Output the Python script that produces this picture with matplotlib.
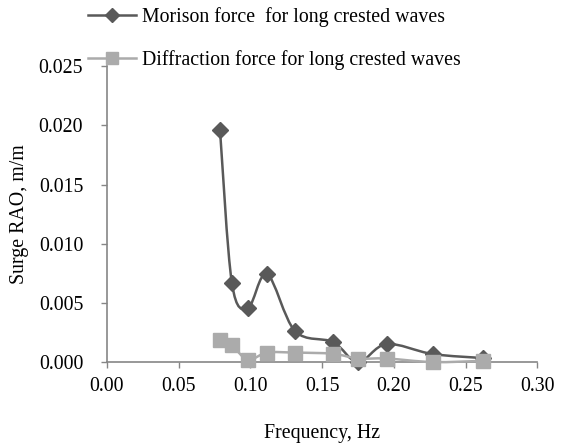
import numpy as np
import matplotlib.pyplot as plt
from matplotlib.path import Path
from matplotlib.patches import PathPatch
from matplotlib.lines import Line2D

plt.rcParams['font.family'] = ['Liberation Serif', 'DejaVu Serif']

# values
freq = [0.0789, 0.0872, 0.0984, 0.1117, 0.1312, 0.1577, 0.1750, 0.1950, 0.2270, 0.2620]
morison = [0.0196, 0.00667, 0.00456, 0.00743, 0.00262, 0.00169, 0.0000, 0.00152, 0.00068, 0.00034]
diffraction = [0.0019, 0.0014, 0.0002, 0.0008, 0.0008, 0.0007, 0.0003, 0.0003, 0.0000, 0.0001]

x_ticks = [0.00, 0.05, 0.10, 0.15, 0.20, 0.25, 0.30]
y_ticks = [0.000, 0.005, 0.010, 0.015, 0.020, 0.025]

dark = '#595959'
light = '#ababab'
axis_col = '#868686'
fs = 14.3


def smooth_path(ax, xs, ys):
    # excel style smoothed line, bezier segments in display space
    pts = ax.transData.transform(np.column_stack([xs, ys]))
    n = len(pts)
    verts = [pts[0]]
    codes = [Path.MOVETO]
    for i in range(n - 1):
        p0 = pts[i - 1] if i > 0 else pts[i]
        p1 = pts[i]
        p2 = pts[i + 1]
        p3 = pts[i + 2] if i + 2 < n else pts[i + 1]
        c1 = p1 + (p2 - p0) / 6.0
        c2 = p2 - (p3 - p1) / 6.0
        verts += [c1, c2, p2]
        codes += [Path.CURVE4] * 3
    return Path(verts, codes)


fig = plt.figure(figsize=(5.62, 4.47), dpi=100)
ax = fig.add_axes([0.190, 0.190, 0.766, 0.662])
ax.set_xlim(0, 0.30)
ax.set_ylim(0, 0.025)

ax.set_xticks(x_ticks)
ax.set_xticklabels(['%.2f' % v for v in x_ticks])
ax.set_yticks(y_ticks)
ax.set_yticklabels(['%.3f' % v for v in y_ticks])

for s in ['top', 'right']:
    ax.spines[s].set_visible(False)
for s in ['left', 'bottom']:
    ax.spines[s].set_color(axis_col)
    ax.spines[s].set_linewidth(1.2)
ax.tick_params(axis='both', colors=axis_col, labelcolor='black', labelsize=fs,
               direction='out', length=4, width=1)
ax.tick_params(axis='x', pad=7)
ax.tick_params(axis='y', pad=13)

fig.canvas.draw()
for ys, col, z in [(morison, dark, 3), (diffraction, light, 5)]:
    p = smooth_path(ax, freq, ys)
    ax.add_patch(PathPatch(p, facecolor='none', edgecolor=col, lw=1.8,
                           transform=None, zorder=z, clip_on=False))

ax.plot(freq, morison, linestyle='none', marker='D', markersize=8,
        color=dark, zorder=4, clip_on=False)
ax.plot(freq, diffraction, linestyle='none', marker='s', markersize=10.5,
        color=light, zorder=6, clip_on=False)

ax.set_xlabel('Frequency, Hz', fontsize=fs, labelpad=20)
ax.set_ylabel('Surge RAO, m/m', fontsize=fs, labelpad=7)

handles = [Line2D([], [], color=dark, lw=1.8, marker='D', markersize=7),
           Line2D([], [], color=light, lw=1.8, marker='s', markersize=8)]
fig.legend(handles, ['Morison force  for long crested waves',
                     'Diffraction force for long crested waves'],
           loc='upper left', bbox_to_anchor=(0.157, 0.985), frameon=False,
           fontsize=fs, handlelength=2.4, handletextpad=0.3,
           labelspacing=1.2, borderpad=0, borderaxespad=0)

fig.savefig('out.png', dpi=100)
